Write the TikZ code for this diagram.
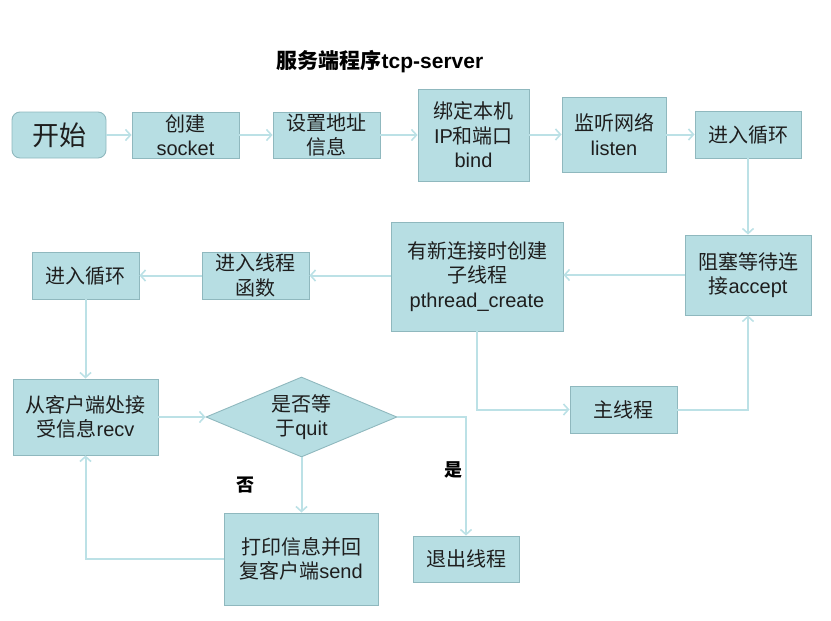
\documentclass[tikz,border=0pt]{standalone}
\usepackage{fontspec}
\setmainfont{Liberation Sans}
\newfontfamily\cjk{Noto Sans CJK SC}
\usetikzlibrary{shapes.geometric,arrows.meta}
\definecolor{boxfill}{HTML}{B7DEE3}
\definecolor{boxline}{HTML}{8FB8BE}
\definecolor{arrcol}{HTML}{BCE1E6}
\definecolor{txt}{HTML}{1E1E1E}
\newcommand{\zh}[1]{{\cjk #1}}
\begin{document}
\begin{tikzpicture}[x=1pt,y=-1pt,
  box/.style={draw=boxline,fill=boxfill,line width=0.9pt,align=center,inner sep=0pt,
    text=txt,font=\fontsize{20}{24.5}\selectfont},
  dia/.style={box,diamond,shape aspect=2.4},
  arr/.style={draw=arrcol,line width=2pt,-{Straight Barb[length=5pt,width=11pt,line width=1.6pt]}},
  lbl/.style={text=black,font=\fontsize{18}{20}\selectfont\bfseries}]
\useasboundingbox (0,0) rectangle (831,621);
\node[lbl,font=\fontsize{21}{24}\selectfont\bfseries] (title) at (380,62) {\zh{服务端程序}tcp-server};
\node[box,rounded corners=8pt,minimum width=94pt,minimum height=46pt,font=\fontsize{27}{30}\selectfont] (start) at (59,135) {\zh{开始}};
\node[box,minimum width=107pt,minimum height=46pt] (socket) at (185.5,135) {\zh{创建}\\socket};
\node[box,minimum width=107pt,minimum height=46pt] (addr) at (326.5,135) {\zh{设置地址}\\\zh{信息}};
\node[box,minimum width=111pt,minimum height=92pt] (bind) at (473.5,135) {\zh{绑定本机}\\IP\zh{和端口}\\bind};
\node[box,minimum width=104pt,minimum height=75pt] (listen) at (614,134.5) {\zh{监听网络}\\listen};
\node[box,minimum width=106pt,minimum height=47pt] (loopa) at (748,134.5) {\zh{进入循环}};
\node[box,minimum width=126pt,minimum height=80pt] (accept) at (748,275) {\zh{阻塞等待连}\\\zh{接}accept};
\node[box,minimum width=172pt,minimum height=109pt] (create) at (477,276.5) {\zh{有新连接时创建}\\\zh{子线程}\\pthread\_create};
\node[box,minimum width=107pt,minimum height=47pt] (mainth) at (623.5,409.5) {\zh{主线程}};
\node[box,minimum width=107pt,minimum height=47pt] (thfun) at (255.5,275.5) {\zh{进入线程}\\\zh{函数}};
\node[box,minimum width=107pt,minimum height=47pt] (loopb) at (85.5,275.5) {\zh{进入循环}};
\node[box,minimum width=145pt,minimum height=76pt] (recv) at (85.5,417) {\zh{从客户端处接}\\\zh{受信息}recv};
\node[dia,minimum width=191pt,minimum height=80pt] (quit) at (301.5,417) {\zh{是否等}\\\zh{于}quit};
\node[box,minimum width=154pt,minimum height=92pt] (print) at (301,559) {\zh{打印信息并回}\\\zh{复客户端}send};
\node[box,minimum width=106pt,minimum height=46pt] (exit) at (466,559) {\zh{退出线程}};
\node[lbl] (no) at (245,485) {\zh{否}};
\node[lbl] (yes) at (453,470) {\zh{是}};
\draw[arr] (start) -- (socket);
\draw[arr] (socket) -- (addr);
\draw[arr] (addr) -- (bind);
\draw[arr] (bind.east |- listen) -- (listen);
\draw[arr] (listen) -- (loopa);
\draw[arr] (loopa) -- (accept);
\draw[arr] (accept.west) -- (accept.west -| create.east);
\draw[arr] (create.west |- thfun) -- (thfun);
\draw[arr] (thfun) -- (loopb);
\draw[arr] (loopb) -- (recv);
\draw[arr] (create.south) |- (mainth.west);
\draw[arr] (mainth.east) -| (accept.south);
\draw[arr] (recv) -- (quit);
\draw[arr] (quit.south) -- (quit.south |- print.north);
\draw[arr] (quit.east) -| (exit.north);
\draw[arr] (print.west) -| (recv.south);
\end{tikzpicture}
\end{document}
